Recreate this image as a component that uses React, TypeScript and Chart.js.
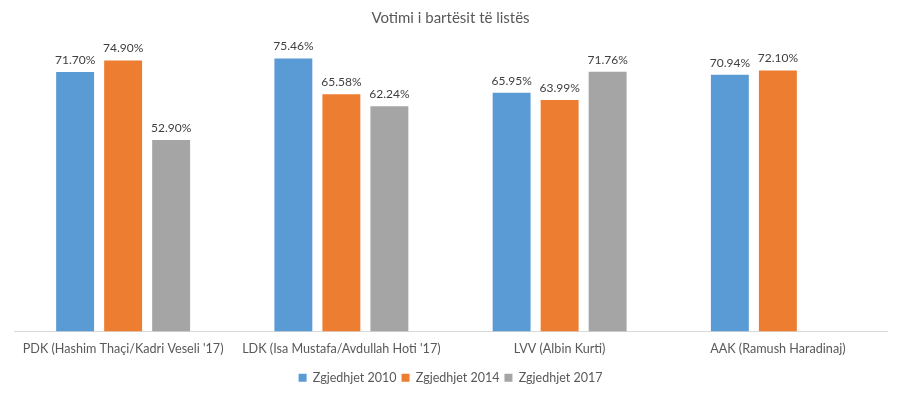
import React, { useEffect, useRef } from "react";
import { Chart, registerables } from "chart.js";

Chart.register(...registerables);

const title = "Votimi i bartësit të listës";
const categories = [
  "PDK (Hashim Thaçi/Kadri Veseli '17)",
  "LDK (Isa Mustafa/Avdullah Hoti '17)",
  "LVV (Albin Kurti)",
  "AAK (Ramush Haradinaj)",
];
const seriesNames = ["Zgjedhjet 2010", "Zgjedhjet 2014", "Zgjedhjet 2017"];
const values2010 = [71.7, 75.46, 65.95, 70.94];
const values2014 = [74.9, 65.58, 63.99, 72.1];
const values2017: (number | null)[] = [52.9, 62.24, 71.76, null];
const colors = ["#5B9BD5", "#ED7D31", "#A5A5A5"];

const FONT = "Lato, 'Open Sans', sans-serif";
const TEXT = "#595959";

const dataLabels = {
  id: "dataLabels",
  afterDatasetsDraw(chart: any) {
    const ctx = chart.ctx;
    ctx.save();
    ctx.font = `12px ${FONT}`;
    ctx.fillStyle = "#404040";
    ctx.textAlign = "center";
    ctx.textBaseline = "bottom";
    chart.data.datasets.forEach((ds: any, i: number) => {
      const meta = chart.getDatasetMeta(i);
      meta.data.forEach((el: any, j: number) => {
        const v = ds.data[j];
        if (v === null || v === undefined) return;
        ctx.fillText(v.toFixed(2) + "%", el.x, el.y - 6);
      });
    });
    ctx.restore();
  },
};

export default function App() {
  const ref = useRef<HTMLCanvasElement>(null);
  useEffect(() => {
    document.body.style.margin = "0";
    const chart = new Chart(ref.current!, {
      type: "bar",
      data: {
        labels: categories,
        datasets: [values2010, values2014, values2017].map((d, i) => ({
          label: seriesNames[i],
          data: d,
          backgroundColor: colors[i],
          categoryPercentage: 0.66,
          barPercentage: 0.79,
        })),
      },
      options: {
        animation: false,
        responsive: false,
        maintainAspectRatio: false,
        layout: { padding: { left: 14, right: 13, top: 0, bottom: 3 } },
        plugins: {
          title: {
            display: true,
            text: title,
            color: TEXT,
            font: { family: FONT, size: 15, weight: "normal" },
            padding: { top: 9, bottom: 15 },
          },
          legend: {
            position: "bottom",
            labels: {
              color: TEXT,
              font: { family: FONT, size: 12.5 },
              boxWidth: 8,
              boxHeight: 8,
              padding: 5,
            },
          },
          tooltip: { enabled: false },
        },
        scales: {
          x: {
            grid: { display: false, drawTicks: false },
            border: { display: true, color: "#D9D9D9" },
            ticks: { color: TEXT, font: { family: FONT, size: 12.6 }, padding: 10, maxRotation: 0, autoSkip: false },
          },
          y: {
            display: false,
            min: 0,
            max: 80,
          },
        },
      },
      plugins: [dataLabels],
    });
    return () => chart.destroy();
  }, []);
  return (
    <div style={{ width: 900, height: 397 }}>
      <canvas ref={ref} width={900} height={397} />
    </div>
  );
}
